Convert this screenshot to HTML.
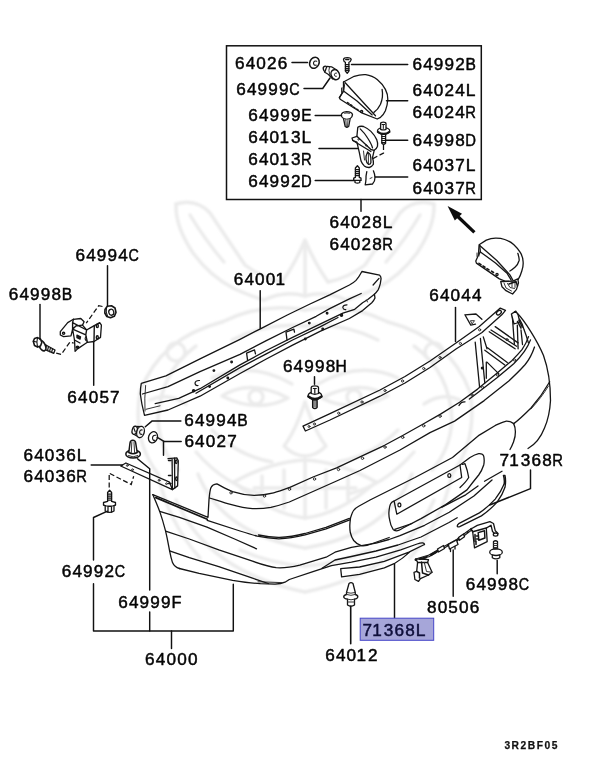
<!DOCTYPE html>
<html><head><meta charset="utf-8"><title>Rear bumper parts diagram</title>
<style>
html,body{margin:0;padding:0;background:#fff;}
body{width:609px;height:768px;overflow:hidden;font-family:"Liberation Sans",sans-serif;}
svg{display:block;position:absolute;left:0;top:0;}
text{font-family:"Liberation Sans",sans-serif;}
.t{font-size:15.6px;fill:#050505;stroke:#050505;stroke-width:0.45px;stroke-linejoin:round;}
.l{fill:none;stroke:#111;stroke-width:1.45;stroke-linecap:round;stroke-linejoin:round;}
.p{fill:none;stroke:#151515;stroke-width:1.3;stroke-linecap:round;stroke-linejoin:round;}
.pf{fill:#fff;stroke:#151515;stroke-width:1.3;stroke-linecap:round;stroke-linejoin:round;}
.th{fill:none;stroke:#2a2a2a;stroke-width:0.95;stroke-linecap:round;stroke-linejoin:round;}
.d{fill:none;stroke:#111;stroke-width:1.25;stroke-dasharray:5 2.5;}
.w{fill:none;stroke:#ebebeb;stroke-width:3.4;stroke-linecap:round;stroke-linejoin:round;}
</style></head><body>
<svg width="609" height="768" viewBox="0 0 609 768">
<rect width="609" height="768" fill="#fff"/>
<!-- ================= BUMPER 64000 ================= -->
<g class="p" id="bumper">
<!-- left wing top edge, step, lip line A to right corner -->
<path d="M152.800 494.600L208 517.300L209 499.600Q209.800 490.500 210.900 487.700Q212.500 484.300 216.800 483.800C222 486.500 227 489.500 232.600 491.600C240 494 248 495.200 254 495.400C262 495.300 268 494.200 273.600 492.800C279 491.500 284 489.600 289.300 487.600L313 477L336.600 467.900L360 456.800L384.600 445.300L402.700 435.500L423.200 424L440.500 414.100L459.600 402.200L477.600 389.100L495.700 374.300L512.100 360.400Q518 354.500 522 349.700Q526.500 343 528.500 336.600"/>
<!-- wing second lip (thick) -->
<path d="M155.800 497.600L207.200 519.300" style="stroke-width:1.700"/>
<!-- second lip line near right -->
<path d="M459 405.500Q461 401.500 465 401.800"/>
<path d="M469.400 399L479.300 391.600L497.300 377.600L513.700 363.700Q520 357.500 524.400 351.300Q528.500 345.500 530.500 339.900"/>
<!-- line B -->
<path d="M209.500 498C216 500 224 502.800 231.500 504.700C239 506.800 246 508.200 252.500 508.600C259 508.900 265 508.400 270.900 507.300C277 506 283 504.200 289.300 502L313 491.500L336.600 481L360 470.500L400 450L430 432.600L454.600 421.100L484.200 400.600L508.800 380.900Q519 371.500 525.200 364.500Q531 357.500 534.500 347"/>
<!-- right corner outer -->
<path d="M514.700 311.700L517.500 313.500C524 320 537 340 543.500 355.500C548 368 550.500 385 550.500 400.500C550 410 548 420 544.500 428C541 437 536 444 528 448.500"/>
<path d="M519.500 319.200Q522.500 324 524 329.600Q526.500 336 528.400 342.900"/>
<!-- crease from right edge into recess corner -->
<path d="M549.700 381.700C545 390 538 400 531 408C526 413 519 420 513.700 423.600"/>
<path d="M548.500 386C544 393.500 537.500 402 531 409" class="th"/>
<!-- left end -->
<path d="M152.800 494.600C155.500 501 158 507 159.700 511.400C162 518 164 525 165.600 531.100C167.500 539 168.500 545 169.600 550.800C170.500 555.500 171.500 559.500 172.500 562.600Q174.500 567.300 179.400 568.500"/>
<!-- bottom edge -->
<path d="M179.400 568.500L199.100 573.400L232.600 580.300C243 582 252 583.200 260.400 583.700L275 584.200Q281 584 285 582.200L289.300 579.500L313 571.700L331.400 565.600L351.400 562.100L376 557.200L400.700 549.800L417.100 544Q421 542.600 422.800 542.900Q424.500 543.300 424.500 544.500"/>
<path d="M258 581.800L282 582.600" class="th"/>
<!-- Line E -->
<path d="M159.700 511.400L179.400 517.300L207 527.100L234.600 539L256.500 548.800"/>
<!-- top face front edge into crease -->
<path d="M207.200 520.400L240 531C248 533.500 254 535.300 257.300 536.200C265 537.800 272 538.600 278.800 538.800C288 538.600 297 537 305.100 534.900L326.100 528.800L349.800 519.900"/>
<path d="M258.500 535C266 536.600 273 537.400 279.500 537.300C288 537.100 297 535.600 305 533.500L326 527.300L349.400 518.400"/>
<!-- Line F -->
<path d="M165.600 531.100L189.300 539L218.800 549.800L252.500 561.200C262 564.500 270 567 276.200 567.700C284 568.300 292 567 299.800 565.100L326.100 557.200L335 552.200L351.400 547.300L376 543.200L389 539.500L400 535.700L424.600 525.300L449.300 512.200L473.900 496L492 479.900"/>
<!-- intermediate -->
<path d="M322 568.300L335 560L351.400 556.500L376 551L398 545L421 537L449 522.500L457.200 517.800"/>
<!-- Line G -->
<path d="M169.600 550.800L189.300 557.700L218.800 566.600L252.500 578.200L268.300 583.500"/>
<!-- recess outer -->
<path d="M513.700 423.600C510.500 421.500 508.500 421 506.400 421.100C502 422 499 423.700 495.700 425.200L479.300 435.100L452.500 457.500L415 477.500L370 500L358.700 506.200Q353.500 509 352 513.500Q350 518 350 522.500Q349.500 528 350.300 532.500Q351.500 537.500 353.700 540.500Q356.500 544 361.300 545.700Q366 546.200 371.100 544L389.200 537.500"/>
<path d="M513.700 423.600Q515.300 427 515.400 431.800Q515.600 436 513.500 442Q512 446 510 449.500"/>
<!-- inner pocket -->
<path d="M393.700 501.200L460 465L470 457.500Q475 454.500 478.700 453.700Q483 453.500 483.700 456.200Q484.700 460.500 483.700 465Q482 470.500 478.700 475Q473 482 467 489.900L445.700 504.600L421 518.600L403 528Q398.500 531 396.400 530.900Q394 530.500 393.100 529.300Q390.500 525.500 389.900 521Q388.500 516 389 511.200Q389.500 506 390.500 504Q391.500 502.200 393.700 501.200"/>
<path d="M462.500 464.300L465 463.700Q467.500 470 468.700 477.500Q466 482 460 487.500"/>
<!-- license plate -->
<path d="M394.200 501.500L396.800 514.200L461.700 477.500L460 465"/>
<ellipse cx="399.400" cy="504.900" rx="1.500" ry="1.900"/>
<ellipse cx="449.300" cy="475.500" rx="1.500" ry="1.900"/>
<!-- reflections -->
<path d="M441.900 507.200L465.700 494.800L478 486"/>
<path d="M394.800 529.300L412 523.500"/>
<path d="M484.500 481.200L502 471.200"/>
<!-- holes along lip -->
<g class="th">
<circle cx="231" cy="492.800" r="1.200"/><circle cx="264.500" cy="496" r="1.200"/><circle cx="289.500" cy="489.200" r="1.200"/><circle cx="314.500" cy="479" r="1.200"/><circle cx="338.500" cy="469.500" r="1.200"/>
<circle cx="362.500" cy="458.300" r="1.200"/><circle cx="385" cy="447.100" r="1.200"/><circle cx="402.700" cy="437.300" r="1.200"/><circle cx="423.700" cy="425.800" r="1.200"/><circle cx="440.100" cy="416.200" r="1.200"/>
<circle cx="472" cy="395" r="1.100"/><circle cx="482.500" cy="387.300" r="1.100"/><circle cx="497.500" cy="375" r="1.100"/><circle cx="514.500" cy="360" r="1.100"/>
</g>
<!-- internal frame behind -->
<path d="M475.200 342.100L479.600 387.200"/><path d="M480.400 338.400L484.800 382.800"/><path d="M483.300 336.900L487 348.800"/>
<path d="M484.800 350.200L504.800 365"/><path d="M487.500 347.800L507.300 362.500"/>
<path d="M486.300 362.100V378.300"/><path d="M487 362.100L498.900 373.900"/>
<path d="M489.200 331.800L515.100 348.800"/><path d="M491 330L516.600 346.200"/><path d="M495.200 326.600L518.100 342.900"/>
<circle cx="507" cy="339.600" r="1.100" class="th"/><circle cx="482.300" cy="368" r="0.900" fill="#222"/>
<path d="M512.200 314.800L514.400 344.300"/><path d="M517.300 325.100L518.100 348.800"/><path d="M521 330L522.500 344.500"/>
<path class="pf" d="M511.400 314L515.800 311.100L518.100 314.800L519.800 322L514 324Z"/>
<path d="M517.500 321.500L521 328.100M519 320.500L522.300 327" style="stroke-width:1.500"/>
<!-- fin near strip -->
<path d="M464.900 314.800L476 314L481.900 319.200M464.900 314.800L470.800 325.100L475.500 324.200"/>
<path d="M470.800 320.700L474.500 320.700L472.300 323.600Z" class="th"/>
</g>
<!-- ================= AIR DAMS 71368 ================= -->
<path class="p" d="M424.500 544.500L408.900 552.200L384.300 561.300L359.600 567L340.700 568.700L341.600 576.900L359.600 574.400L384.300 567.800L394.100 563.700Q403 558.500 410.500 551.400"/>
<path class="pf" d="M503.400 475.500Q504.800 480 504 484.300Q501 492 495.200 499.100Q488 507 479.400 512.900L458.700 523.700Q457 525 457.300 526.300Q458 527.300 459.700 526.700L481.400 515.900Q490 510 497.100 502.100Q502.500 495 505 487.300Q506.200 481 505 475.500Z"/>
<!-- ================= REINFORCEMENT 64001 ================= -->
<g class="p" id="bar">
<path class="pf" d="M141.300 383.400L165.900 375.900L200 358.800L240 339.300L260.400 328.800L287.300 315L310 304L329.700 294.900L349.400 285Q354 282.500 356 280.400Q359 277 361.900 271.500L379.600 275.100Q381.300 277 381 279.100L380.300 283.700Q379.500 287 378.300 289.600Q376.500 292.300 374.400 294.200L375 298.100Q374 300.500 371.800 302.700L362.600 310.600L349.400 318.500L320 331.400L292.600 345.200L266.300 359L240 373.500L200 396.200L168 410L144.500 415.400Q141.500 404 140.300 394Q140.300 388 141.300 383.400Z"/>
<path d="M142.400 394L168 386.600L200 371.600L240 354.400L266.300 340.600L292.600 327.500L316.200 316.300L329.700 308.600L349.400 298.800L361.200 293.500"/>
<path d="M155.200 403.600L178.700 398.300L200 388.700L240 364.900L266.300 350.500L292.600 337.300L320 324.200L342.900 313.200L354.700 309.300L362.600 302.700L367.800 299.500L374.400 294.200"/>
<path d="M196 393.200L240 367.600L266.300 353.800L292.600 340L320 326.800L338 317.500"/>
<path d="M145.600 385.500Q144.300 398 145 411.100" class="th"/>
<path d="M146 409.300L160 405.800" class="th"/>
<path d="M373.100 285L379 278.400"/>
<path d="M366.500 300L367.500 302" class="th"/>
<!-- slots -->
<path d="M287 340L286 332.100L293.900 329.200L294.500 332.100" style="stroke-width:1.300"/>
<path d="M247.600 360.300L246.600 353.100L254.500 349.800L255.500 353.800" style="stroke-width:1.300"/>
<path d="M199.500 380.500Q195.500 380.300 195 383.200Q195.300 385.800 198 385.500" style="stroke-width:1.200"/>
<path d="M347 304.800Q343 304.800 342.800 307.500Q343.300 310 345.800 309.600" style="stroke-width:1.200"/>
<circle cx="213.900" cy="370.600" r="0.800"/><circle cx="231.600" cy="362" r="0.800"/><circle cx="227.800" cy="378" r="0.800"/><circle cx="209.600" cy="386.600" r="0.800"/><circle cx="193.600" cy="390.800" r="1.100" fill="#222"/>
<circle cx="309.300" cy="323.100" r="0.800"/><circle cx="305.300" cy="339" r="0.800"/><circle cx="327.100" cy="313.200" r="0.800"/><circle cx="322.700" cy="329" r="0.800"/><circle cx="341.500" cy="315.200" r="1.100" fill="#222"/>
</g>
<!-- ================= UPPER STRIP 64044 ================= -->
<g class="p" id="strip">
<path class="pf" d="M303 426.100L330 413.700L380 390L405 376.500L430 361L456 343L479.300 326.500L500.300 308.100L505.500 310.300L501.800 314.800L482 332.500L456 349L430 367.500L405 383L380 396.200L330 420L305.400 431Z"/>
<ellipse cx="498.900" cy="312.600" rx="2.800" ry="1.800" transform="rotate(-40 498.900 312.600)"/>
<g class="th"><circle cx="309" cy="426.500" r="1"/><circle cx="314.500" cy="424" r="1"/><circle cx="338.700" cy="413.200" r="1.100"/><circle cx="362" cy="402" r="1.100"/><circle cx="385" cy="390.500" r="1.100"/><circle cx="402.500" cy="381" r="1.100"/><circle cx="423.700" cy="368.500" r="1.100"/><circle cx="440" cy="357.500" r="1.100"/><circle cx="460.400" cy="343.500" r="1.100"/><circle cx="479.600" cy="329.800" r="1.100"/></g>
</g>
<!-- ================= INSET PARTS ================= -->
<g class="p" id="inset">
<!-- washer 64026 -->
<ellipse class="pf" cx="314.400" cy="62.800" rx="4.600" ry="5.700" transform="rotate(25 314.400 62.800)" style="stroke-width:1.550"/>
<path d="M316.800 61.200Q313.800 60.300 313.500 63.200Q313.800 65.800 316.200 65.100" style="stroke-width:1.150"/>
<!-- clip 64999C -->
<ellipse class="pf" cx="325.800" cy="69.300" rx="2.300" ry="3.200" transform="rotate(-25 325.800 69.300)"/>
<path class="pf" d="M326.800 66.400L331.500 66.800L337.500 70.500L332.800 79L328.500 74.500L324.800 72.200Z"/>
<ellipse class="pf" cx="335.300" cy="74.700" rx="4.100" ry="5.200" transform="rotate(-25 335.300 74.700)" style="stroke-width:1.500"/>
<path d="M336.600 73Q334.500 72.500 334.300 74.900Q334.600 76.800 336.400 76.400" class="th"/>
<path d="M329.500 66.800Q328 70 329.800 74.800" class="th"/>
<!-- screw 64992B -->
<path class="pf" d="M343.500 59.500Q343.800 57.700 347.300 57.700Q351 57.800 351.200 59.600Q350.500 62 348.900 62.300V71L347.200 73.300L345.400 71V62.300Q343.700 61.800 343.500 59.500Z"/>
<path d="M345.400 64.500H348.900M345.400 66.500H348.900M345.400 68.500H348.900M345.400 70.300H348.900M345.600 59.500L349 59.500" style="stroke-width:1.250"/>
<!-- lamp 64024 -->
<path class="pf" d="M343.500 82L354.200 76.300Q360 74.300 365.700 74.600Q372.500 75.500 377.200 79.600Q383 84.500 385.400 89.400Q388 94.500 387.800 99.300Q387.500 105.500 385.400 110.800Q383.500 115 380.500 117.300L377.200 119L362.400 113.200L340.200 99.300L339.400 97.600L343.500 91Z"/>
<path d="M345.200 82.800L375.500 115.700"/>
<path d="M343.500 91L357 101L372.200 114.900"/>
<path d="M339.400 97.600L343.500 91L344.300 85.300L343.500 82"/>
<path d="M341.500 92.500V88M343 92V87.500" class="th"/>
<path d="M382.100 89.400Q383.500 97 380.500 104.200Q378 109.500 373.900 112.400"/>
<path d="M347.500 102.500L349 103.500M350.500 104.700L352 105.700M353.500 107L355 108M356.700 109L358.200 110" style="stroke-width:1.500"/>
<circle cx="361.600" cy="111.600" r="1.100"/>
<!-- clip 64999E -->
<path class="pf" d="M341.300 115Q341.500 112 346.500 111.600Q352 111.800 352.500 114.600Q352.300 117.300 350.200 118.500L348.700 126.500L346.800 127.400L345.200 126.500L343.500 118.500Q341.300 117.500 341.300 115Z"/>
<path d="M343.500 118.500Q346.800 120 350.200 118.500M345.800 119.500L346.300 126.800M348 119.500L347.600 126.800M344.500 113.200Q347 112.500 349.500 113.300" class="th"/>
<!-- bracket 64013 -->
<path class="pf" d="M357.800 127.300Q360 125.700 363.500 126.500Q367.500 128.200 370.900 131.400Q374.500 135 376.700 139.600Q378 143 377.500 146.200Q376.500 149 374.200 150.300L372.500 157.700Q373.800 161.500 373.400 164.300Q372 166.800 369.300 167.500Q366.500 167.700 364.300 165.900Q362 163.500 361 161L359.400 152.800L356.900 142.100L352.800 140.500L352 138L356.900 136.300Z"/>
<path d="M360.200 128.900Q365 133.500 367.600 138Q371.500 144 372.500 147.800"/>
<path d="M356.900 136.300L370.900 149.500L374.200 150.300M352.800 140.500L370.900 151.500"/>
<path d="M367.600 152Q365.500 156 366 159.300Q366.500 163 368.400 164.300Q370.500 164.500 370.900 162.600Q371.300 158 370.100 154.400Z"/>
<path d="M368.400 153.500V163.500M363.500 151L364.500 160" class="th"/>
<circle cx="358.600" cy="139.300" r="0.800" class="th"/><circle cx="366.300" cy="145.400" r="0.800" class="th"/>
<!-- bolt 64998D -->
<path class="pf" d="M381.800 134H385.600V143.300Q383.700 145.200 381.800 143.300Z"/>
<path d="M381.800 136.500H385.600M381.800 138.500H385.600M381.800 140.500H385.600M381.800 142.500H385.600" style="stroke-width:1"/>
<ellipse class="pf" cx="383.600" cy="130.800" rx="6.100" ry="3.200"/>
<path d="M377.800 131.800Q383.600 136 389.500 131.800" style="stroke-width:2.100"/>
<path class="pf" d="M380.600 129.300V123.600Q380.800 122.200 383.300 122.200Q385.800 122.200 386 123.600V129.300Q383.300 130.500 380.600 129.300Z"/>
<path d="M382 124.500H384.600M383.300 124.500V128.500" style="stroke-width:1"/>
<!-- screw 64992D -->
<path class="pf" d="M357.400 165.700L359.300 168V177.400L361 178.200V180.300L359.800 181V182.500Q357.400 183.800 355 182.500V181L353.700 180.300V178.200L355.400 177.400V168Z"/>
<path d="M355.400 169.500H359.300M355.400 171.500H359.300M355.400 173.500H359.300M355.400 175.500H359.300M353.700 180.300H361" style="stroke-width:1.250"/>
<!-- strip 64037 -->
<path class="pf" d="M366.800 171.600Q365.800 176 366 179Q365.800 182 365.200 184.800L372.500 184Q375.200 181 375 177.400Q374.800 174 373.400 170.800"/>
<path d="M370 178.500L372 177.600" class="th"/>
</g>
<!-- ================= LAMP ASSY 64028 ================= -->
<g class="p" id="lampassy">
<path class="pf" d="M479.100 244.700L486.300 240.100Q491 238.200 495.500 238.100Q500.500 238 504.700 239.500Q510 241.300 513.900 244.700Q518 248.500 520.400 252.600Q523 257 523.100 261.800Q523.500 266.500 521.800 271Q520.500 275.500 518.500 278.900L515.200 281.500H506L499.400 278.900L476.400 263.100L475.800 261.100L478.400 255.200Z"/>
<path d="M479.700 245.400L496.800 260.500L509.900 274.900L513.200 280.800"/>
<path d="M480.400 251.900L495.500 263.100L507.300 273.600L511.200 280.200"/>
<path d="M478.400 255.200L480.400 251.900L479.700 245.400"/>
<path d="M477 256.500V253M479 256V252" class="th"/>
<path d="M517.800 253.300Q519.500 258.500 519.100 260.500Q518 264.500 515.200 267Q512.500 269.500 509.900 271"/>
<path d="M479 263.300L481 264.600M483 266L485 267.200M487 268.600L489 269.900M491.500 271.200L493.500 272.500" style="stroke-width:1.600"/>
<circle cx="497" cy="274.500" r="1.100"/>
<path class="pf" d="M500.700 281.500L502 286.800L506 290.700L512.600 294L516.500 289.400L518.500 282.800L517.800 278.900L513 281.200Z"/>
<path d="M504 283L506 288L511.500 291M507.500 283.500L510 287.500L514.500 288.500M512 282V287M515 281V287.500" class="th"/>
<path d="M509 284L516 281.500L517.500 286" style="stroke-width:1.500"/>
</g>
<!-- ================= BRACKET 64057 + HW ================= -->
<g class="p" id="b64057" style="stroke-width:1.400">
<!-- nut 64994C -->
<path class="pf" d="M105 309.500L107.300 306.300L111.500 305.800L115 308L116 312.500L114.300 316.300L110.500 317.800L106.800 316.500L104.800 313Z" style="stroke-width:1.600"/>
<ellipse class="pf" cx="111.300" cy="312.200" rx="2.500" ry="3" transform="rotate(-15 111.300 312.200)"/>
<path d="M106.500 307.500Q105.500 312 107.500 316" style="stroke-width:1.100"/>
<!-- bolt 64998B -->
<path class="pf" d="M44.500 344.300L55 350L53.800 353.300L43 348.600Z"/>
<path d="M46.500 345.300L45.500 349.600M48.500 346.500L47.500 350.600M50.500 347.700L49.500 351.600M52.500 348.800L51.600 352.500" style="stroke-width:1.200"/>
<ellipse class="pf" cx="42.200" cy="345.600" rx="3" ry="5.600" transform="rotate(-25 42.200 345.600)" style="stroke-width:1.600"/>
<path class="pf" d="M33.300 341.300L34.500 338.500L37.500 337.600L40.500 339L41.800 342.500L40.500 346L37.500 347L34.500 345.500Z" style="stroke-width:1.600"/>
<path d="M37.500 337.600Q36.300 342 37.500 347M33.300 341.300L36.500 342" style="stroke-width:1.100"/>
<!-- bracket -->
<path class="pf" d="M60.300 331.700L67.700 322.600L73.400 319.300L80.800 318.500L84.100 321.800L82.500 325.100L86.600 330L90.700 327.600L99.700 322.600L101.400 325.100L100.500 337.400L94 341.500L87.400 342.300L77.500 348.900L75.100 351.400L74.500 340L72.600 329.200L71 335.800L63.600 336.600L60.300 335Z"/>
<path d="M73.400 319.300L72.600 322.600L86.600 330M72.600 322.600L72.600 329.200L85.800 334.900L86.600 330M85.800 334.900L87.400 342.300M82.500 325.100L75.900 325.900L72.600 329.200M94.300 325.600L94 341.500M74.500 340L80 343"/>
<path d="M77 335.200L80.500 336.800L80 339L77 337.600Z" fill="#222"/>
<ellipse cx="77.500" cy="347.300" rx="1.300" ry="1" fill="#222"/>
<circle cx="63.600" cy="333.300" r="1.100"/><ellipse cx="97.300" cy="325.900" rx="1" ry="1.600"/><ellipse cx="97.300" cy="337.400" rx="1" ry="1.600"/>
<path d="M86 336.500Q84 339 86.500 341" style="stroke-width:1.100"/>
</g>
<!-- ================= LEFT HW CLUSTER ================= -->
<g class="p" id="lefthw">
<!-- nut 64994B -->
<g style="stroke-width:1.550">
<path class="pf" d="M135.500 426.300L141.500 426.600L139.500 437.500L133.700 434.300Z"/>
<ellipse class="pf" cx="134.700" cy="430.300" rx="2.500" ry="4.100" transform="rotate(15 134.700 430.300)"/>
<ellipse class="pf" cx="140.500" cy="432" rx="3.700" ry="5.700" transform="rotate(15 140.500 432)"/>
<path d="M142.300 430Q139.800 429.500 139.600 432.300Q139.900 434.800 142 434.300" style="stroke-width:1.100"/>
<path d="M134 428.500L135.300 432" style="stroke-width:1.100"/>
<!-- washer 64027 -->
<ellipse class="pf" cx="153" cy="437.300" rx="4.400" ry="5.700" transform="rotate(20 153 437.300)"/>
<path d="M155.800 435.300Q152.800 434.800 152.500 438Q152.800 440.800 155 440.300" style="stroke-width:1.100"/>
<path d="M157.300 437.300L163.900 441.400"/>
</g>
<!-- clip 64999F -->
<ellipse class="pf" cx="133.100" cy="454.100" rx="7.300" ry="4" style="stroke-width:1.500"/>
<path class="pf" d="M128.800 452.500L130 443Q130.300 440.300 132.800 440.200Q135.400 440.300 135.700 443L137.200 452.500Q133 455 128.800 452.500Z" style="stroke-width:1.500"/>
<path d="M131.800 442.500L131.300 452.500M134 442.500L134.600 452.500M128.500 455.600Q133.100 458.300 137.700 455.600" class="th"/>
<!-- bracket 64036 bar -->
<path class="pf" d="M120.700 466L125.900 463L169.500 482.200L172.400 489.600L120.700 466Z"/>
<path d="M125.900 463L172.400 484" style="display:none"/>
<circle cx="127.300" cy="465.500" r="0.900" class="th"/><circle cx="132.500" cy="469.700" r="0.900" class="th"/><circle cx="159.100" cy="480.300" r="0.900" class="th"/><circle cx="166.500" cy="483.700" r="0.900" class="th"/>
<!-- vertical plate -->
<path class="pf" d="M168 458.600L176.800 457.900L178.300 460.800L177.600 485.900L172.400 489.600L172.100 459.300"/>
<path d="M174.500 458.200L174.800 488" />
<ellipse cx="176.200" cy="461.800" rx="0.900" ry="1.800"/><ellipse cx="176.500" cy="478.800" rx="0.900" ry="1.800"/>
<path d="M168.500 460.500H171M168.500 475.500H171M168.500 483.500H171" style="stroke-width:1.500"/>
<!-- screw 64992C -->
<path class="pf" d="M109.600 490.200L111.600 492.500V501.400L115.500 502.500V505L114 505.900V511Q109.600 513.800 105.200 511V505.900L103.500 505V502.500L107.600 501.400V492.500Z"/>
<path d="M107.600 494H111.600M107.600 496H111.600M107.600 498H111.600M107.600 500H111.600M103.500 505Q109.600 507.500 115.500 505M108 506.800V512M111.500 506.800V512" style="stroke-width:1.250"/>
</g>
<!-- ================= BOLT 64998H ================= -->
<g class="p">
<path class="pf" d="M312.600 400H317.100V407.500Q314.800 409.500 312.600 407.500Z"/>
<path d="M312.600 402H317.100M312.600 404H317.100M312.600 406H317.100" style="stroke-width:1.100"/>
<ellipse class="pf" cx="314.900" cy="395.500" rx="6.800" ry="3.800"/>
<path d="M308.300 396.500Q314.900 401.500 321.600 396.500" style="stroke-width:2.400"/>
<path class="pf" d="M311.200 393.500V387.500Q311.500 385.800 314.800 385.800Q318.200 385.800 318.500 387.500V393.500Q314.800 395 311.200 393.500Z"/>
<path d="M313.300 388.500H316.300M314.800 388.500V393" style="stroke-width:1.200"/>
</g>
<!-- ================= CLIP 64012 ================= -->
<g class="p">
<path class="pf" d="M349 583.500Q351 581.800 353 583.500L355.300 592.500L355.300 594.500Q358 595.200 357.800 597Q357.500 598.800 354.500 599.200V605Q351 607.300 347.500 605V599.200Q344 598.800 343.700 597Q343.700 595.200 346.500 594.500V592.500Z"/>
<path d="M346.500 592.500Q351 594 355.300 592.500M346.500 594.500Q351 596.300 355.300 594.500M347.500 599.200Q351 600.500 354.500 599.200M347.500 602H354.500" class="th"/>
</g>
<!-- ================= HARNESS 80506 + BOLT 64998C ================= -->
<g class="p" id="harness" style="stroke-width:1.5">
<path d="M415.800 559.700L428.500 556.100L441.100 548.800L449.300 544.300L457.400 539.800L464.600 534.400L471.800 529" style="stroke-width:2.600"/>
<path d="M416.500 559.500L428.500 556.100L441.100 548.800L449.300 544.300L457.400 539.800L464.600 534.400L471.500 529.200" style="stroke:#fff;stroke-width:0.500;stroke-dasharray:3 3"/>
<path class="pf" d="M437.500 549L443.500 545.500L444.500 548.500L438.500 552Z"/>
<path class="pf" d="M448.300 544.300L456.500 540L458 544.500L449.500 549Z"/>
<path class="pf" d="M458.500 537.500L463.500 534L464.500 536.800L459.500 540.300Z"/>
<path d="M450.500 549V551.500M455 546.500V549" style="stroke-width:1.300"/>
<!-- left bracket -->
<path class="pf" d="M415.800 558.800L428.500 559.700L427.600 562.400L432.100 572.300L428.500 575L420.400 578.600L418.500 581.400L414.900 579.500L414 572.300L416.700 571.400L417.600 562.400Z"/>
<path d="M421.500 562L422.500 573L428.500 575M417.600 562.400L427.600 562.400M416.700 571.400L419.500 573V578" />
<path d="M424.300 562.500L426.500 571.500L432.100 572.300" class="th"/>
<!-- right bracket -->
<path class="pf" d="M470.900 529L477.300 525.400L489.900 521.700L493.500 523.500L495.300 530.800L498 533.500L496 535L492.500 531.500L491 525.200L486.300 528.100L487.200 541.600L474.500 547.900L472.700 531.700Z"/>
<path d="M472.700 531.700L486.300 528.100M478.200 532.600L484.500 530.800L484.900 538L478.800 540.200Z M476 541V544.500"/>
<path d="M470.900 529L472.700 531.700M475 534.500V541.500M476.500 536H478.200M476.500 539H478.200" /><path d="M420 559L426 557.500M431 555L436 552" style="stroke-width:2.200"/>
<ellipse class="pf" cx="495.600" cy="534.600" rx="2.300" ry="1.600"/>
<!-- bolt 64998C -->
<path class="pf" d="M493.500 541.500Q495.500 540 497.500 541.500V549H493.500Z"/>
<path d="M493.500 543.500H497.500M493.500 545.500H497.500M493.500 547.500H497.500" class="th"/>
<ellipse class="pf" cx="496" cy="552.200" rx="6.300" ry="3.300"/>
<path class="pf" d="M492.300 554.800V557.800Q496 560 499.800 557.800V554.800Q496 556.300 492.300 554.800Z"/>
<path d="M493.500 548.800Q495.500 550 497.500 548.800" class="th"/>
</g>
<g class="l">
<!-- inset box -->
<rect x="226.5" y="45.8" width="254.8" height="153.7" style="stroke-width:1.5;stroke-linejoin:miter"/>
<path d="M361 199.5V211.2"/>
<!-- inset leaders -->
<path d="M292 62.5H307.5"/>
<path d="M304 88.5H322.7L330 78"/>
<path d="M351.5 64.5H407.7"/>
<path d="M386.5 100.7H407.7"/>
<path d="M315.2 115.5H341.5"/>
<path d="M319 148.5H357.7"/>
<path d="M385.2 140.2H407.7"/>
<path d="M315.2 180.5H354"/>
<path d="M375.2 177H407.7"/>
<!-- main leaders -->
<path d="M107.5 265.7V305.7"/>
<path d="M40 304.5V339.5"/>
<path d="M93.7 342.5V385.2"/>
<path d="M260.2 290.7V328.2"/>
<path d="M455.5 307.5V341.5"/>
<path d="M314.5 376.8V384.2"/>
<path d="M180.9 420.9H152.2L145.3 426.7"/>
<path d="M181.2 441.4H163.5V455.2"/>
<path d="M91.2 465H122.5"/>
<path d="M107.5 511.2L93.5 517.5V560"/>
<path d="M93.5 583.7V631H233.3V584.3"/>
<path d="M137.5 458.7L149.7 468.7V590"/>
<path d="M149.7 612V631"/>
<path d="M171.5 631V648.4"/>
<path d="M530.5 470V488.7L489.7 505"/>
<path d="M394.5 563.7V618"/>
<path d="M453.2 550V596.2"/>
<path d="M497.2 560.5V573.7"/>
<path d="M350.7 606.2V643.7" style="stroke-width:1.6"/>
</g>
<g class="d">
<path d="M383.5 145V153L372.7 158.7"/>
<path d="M56.2 353.2L61.2 354.5L70 342L73.7 343.2"/>
<path d="M102.5 306.5L98.7 305.7L86.2 323.2"/>
<path d="M109.2 487.5V473.2L131.2 484.5L133.7 476.2"/>
</g>
<!-- arrow -->
<path d="M474.400 232.400L457 215.800" stroke="#0c0c0c" stroke-width="3.300" fill="none"/>
<path d="M447.600 206L462 213.800L454.800 220.600Z" fill="#0c0c0c"/>
<g class="t" style="filter:grayscale(1)" text-anchor="middle">
<text transform="translate(239.7 68.6) scale(1.1 1)">6</text><text transform="translate(250.4 68.6) scale(1.1 1)">4</text><text transform="translate(261.1 68.6) scale(1.1 1)">0</text><text transform="translate(271.8 68.6) scale(1.1 1)">2</text><text transform="translate(282.5 68.6) scale(1.1 1)">6</text>
<text transform="translate(240.95 95) scale(1.1 1)">6</text><text transform="translate(251.65 95) scale(1.1 1)">4</text><text transform="translate(262.35 95) scale(1.1 1)">9</text><text transform="translate(273.05 95) scale(1.1 1)">9</text><text transform="translate(283.75 95) scale(1.1 1)">9</text><text transform="translate(294.45 95) scale(0.92 1)">C</text>
<text transform="translate(252.95 121.25) scale(1.1 1)">6</text><text transform="translate(263.65 121.25) scale(1.1 1)">4</text><text transform="translate(274.35 121.25) scale(1.1 1)">9</text><text transform="translate(285.05 121.25) scale(1.1 1)">9</text><text transform="translate(295.75 121.25) scale(1.1 1)">9</text><text transform="translate(306.45 121.25) scale(1.0 1)">E</text>
<text transform="translate(252.95 143) scale(1.1 1)">6</text><text transform="translate(263.65 143) scale(1.1 1)">4</text><text transform="translate(274.35 143) scale(1.1 1)">0</text><text transform="translate(284.15 143) scale(1.1 1)">1</text><text transform="translate(295.75 143) scale(1.1 1)">3</text><text transform="translate(306.45 143) scale(1.12 1)">L</text>
<text transform="translate(252.95 164.5) scale(1.1 1)">6</text><text transform="translate(263.65 164.5) scale(1.1 1)">4</text><text transform="translate(274.35 164.5) scale(1.1 1)">0</text><text transform="translate(284.15 164.5) scale(1.1 1)">1</text><text transform="translate(295.75 164.5) scale(1.1 1)">3</text><text transform="translate(306.45 164.5) scale(0.95 1)">R</text>
<text transform="translate(252.95 187) scale(1.1 1)">6</text><text transform="translate(263.65 187) scale(1.1 1)">4</text><text transform="translate(274.35 187) scale(1.1 1)">9</text><text transform="translate(285.05 187) scale(1.1 1)">9</text><text transform="translate(295.75 187) scale(1.1 1)">2</text><text transform="translate(306.45 187) scale(0.95 1)">D</text>
<text transform="translate(417.2 70) scale(1.1 1)">6</text><text transform="translate(427.9 70) scale(1.1 1)">4</text><text transform="translate(438.6 70) scale(1.1 1)">9</text><text transform="translate(449.3 70) scale(1.1 1)">9</text><text transform="translate(460.0 70) scale(1.1 1)">2</text><text transform="translate(470.7 70) scale(1.0 1)">B</text>
<text transform="translate(417.2 95.75) scale(1.1 1)">6</text><text transform="translate(427.9 95.75) scale(1.1 1)">4</text><text transform="translate(438.6 95.75) scale(1.1 1)">0</text><text transform="translate(449.3 95.75) scale(1.1 1)">2</text><text transform="translate(460.0 95.75) scale(1.1 1)">4</text><text transform="translate(470.7 95.75) scale(1.12 1)">L</text>
<text transform="translate(417.2 117.5) scale(1.1 1)">6</text><text transform="translate(427.9 117.5) scale(1.1 1)">4</text><text transform="translate(438.6 117.5) scale(1.1 1)">0</text><text transform="translate(449.3 117.5) scale(1.1 1)">2</text><text transform="translate(460.0 117.5) scale(1.1 1)">4</text><text transform="translate(470.7 117.5) scale(0.95 1)">R</text>
<text transform="translate(417.2 146.25) scale(1.1 1)">6</text><text transform="translate(427.9 146.25) scale(1.1 1)">4</text><text transform="translate(438.6 146.25) scale(1.1 1)">9</text><text transform="translate(449.3 146.25) scale(1.1 1)">9</text><text transform="translate(460.0 146.25) scale(1.1 1)">8</text><text transform="translate(470.7 146.25) scale(0.95 1)">D</text>
<text transform="translate(417.2 171.25) scale(1.1 1)">6</text><text transform="translate(427.9 171.25) scale(1.1 1)">4</text><text transform="translate(438.6 171.25) scale(1.1 1)">0</text><text transform="translate(449.3 171.25) scale(1.1 1)">3</text><text transform="translate(460.0 171.25) scale(1.1 1)">7</text><text transform="translate(470.7 171.25) scale(1.12 1)">L</text>
<text transform="translate(417.2 193.5) scale(1.1 1)">6</text><text transform="translate(427.9 193.5) scale(1.1 1)">4</text><text transform="translate(438.6 193.5) scale(1.1 1)">0</text><text transform="translate(449.3 193.5) scale(1.1 1)">3</text><text transform="translate(460.0 193.5) scale(1.1 1)">7</text><text transform="translate(470.7 193.5) scale(0.95 1)">R</text>
<text transform="translate(334.2 228) scale(1.1 1)">6</text><text transform="translate(344.9 228) scale(1.1 1)">4</text><text transform="translate(355.6 228) scale(1.1 1)">0</text><text transform="translate(366.3 228) scale(1.1 1)">2</text><text transform="translate(377.0 228) scale(1.1 1)">8</text><text transform="translate(387.7 228) scale(1.12 1)">L</text>
<text transform="translate(334.2 249.5) scale(1.1 1)">6</text><text transform="translate(344.9 249.5) scale(1.1 1)">4</text><text transform="translate(355.6 249.5) scale(1.1 1)">0</text><text transform="translate(366.3 249.5) scale(1.1 1)">2</text><text transform="translate(377.0 249.5) scale(1.1 1)">8</text><text transform="translate(387.7 249.5) scale(0.95 1)">R</text>
<text transform="translate(80.2 260.75) scale(1.1 1)">6</text><text transform="translate(90.9 260.75) scale(1.1 1)">4</text><text transform="translate(101.6 260.75) scale(1.1 1)">9</text><text transform="translate(112.3 260.75) scale(1.1 1)">9</text><text transform="translate(123.0 260.75) scale(1.1 1)">4</text><text transform="translate(133.7 260.75) scale(0.92 1)">C</text>
<text transform="translate(13.45 299.5) scale(1.1 1)">6</text><text transform="translate(24.15 299.5) scale(1.1 1)">4</text><text transform="translate(34.85 299.5) scale(1.1 1)">9</text><text transform="translate(45.55 299.5) scale(1.1 1)">9</text><text transform="translate(56.25 299.5) scale(1.1 1)">8</text><text transform="translate(66.95 299.5) scale(1.0 1)">B</text>
<text transform="translate(238.45 285) scale(1.1 1)">6</text><text transform="translate(249.15 285) scale(1.1 1)">4</text><text transform="translate(259.85 285) scale(1.1 1)">0</text><text transform="translate(270.55 285) scale(1.1 1)">0</text><text transform="translate(280.35 285) scale(1.1 1)">1</text>
<text transform="translate(433.95 300.75) scale(1.1 1)">6</text><text transform="translate(444.65 300.75) scale(1.1 1)">4</text><text transform="translate(455.35 300.75) scale(1.1 1)">0</text><text transform="translate(466.05 300.75) scale(1.1 1)">4</text><text transform="translate(476.75 300.75) scale(1.1 1)">4</text>
<text transform="translate(287.65 371.9) scale(1.1 1)">6</text><text transform="translate(298.35 371.9) scale(1.1 1)">4</text><text transform="translate(309.05 371.9) scale(1.1 1)">9</text><text transform="translate(319.75 371.9) scale(1.1 1)">9</text><text transform="translate(330.45 371.9) scale(1.1 1)">8</text><text transform="translate(341.15 371.9) scale(1.0 1)">H</text>
<text transform="translate(72.05 402.5) scale(1.1 1)">6</text><text transform="translate(82.75 402.5) scale(1.1 1)">4</text><text transform="translate(93.45 402.5) scale(1.1 1)">0</text><text transform="translate(104.15 402.5) scale(1.1 1)">5</text><text transform="translate(114.85 402.5) scale(1.1 1)">7</text>
<text transform="translate(188.95 426) scale(1.1 1)">6</text><text transform="translate(199.65 426) scale(1.1 1)">4</text><text transform="translate(210.35 426) scale(1.1 1)">9</text><text transform="translate(221.05 426) scale(1.1 1)">9</text><text transform="translate(231.75 426) scale(1.1 1)">4</text><text transform="translate(242.45 426) scale(1.0 1)">B</text>
<text transform="translate(189.15 447.3) scale(1.1 1)">6</text><text transform="translate(199.85 447.3) scale(1.1 1)">4</text><text transform="translate(210.55 447.3) scale(1.1 1)">0</text><text transform="translate(221.25 447.3) scale(1.1 1)">2</text><text transform="translate(231.95 447.3) scale(1.1 1)">7</text>
<text transform="translate(28.2 460.5) scale(1.1 1)">6</text><text transform="translate(38.9 460.5) scale(1.1 1)">4</text><text transform="translate(49.6 460.5) scale(1.1 1)">0</text><text transform="translate(60.3 460.5) scale(1.1 1)">3</text><text transform="translate(71.0 460.5) scale(1.1 1)">6</text><text transform="translate(81.7 460.5) scale(1.12 1)">L</text>
<text transform="translate(28.2 482) scale(1.1 1)">6</text><text transform="translate(38.9 482) scale(1.1 1)">4</text><text transform="translate(49.6 482) scale(1.1 1)">0</text><text transform="translate(60.3 482) scale(1.1 1)">3</text><text transform="translate(71.0 482) scale(1.1 1)">6</text><text transform="translate(81.7 482) scale(0.95 1)">R</text>
<text transform="translate(504.2 465.5) scale(1.1 1)">7</text><text transform="translate(514.0 465.5) scale(1.1 1)">1</text><text transform="translate(525.6 465.5) scale(1.1 1)">3</text><text transform="translate(536.3 465.5) scale(1.1 1)">6</text><text transform="translate(547.0 465.5) scale(1.1 1)">8</text><text transform="translate(557.7 465.5) scale(0.95 1)">R</text>
<text transform="translate(66.45 577) scale(1.1 1)">6</text><text transform="translate(77.15 577) scale(1.1 1)">4</text><text transform="translate(87.85 577) scale(1.1 1)">9</text><text transform="translate(98.55 577) scale(1.1 1)">9</text><text transform="translate(109.25 577) scale(1.1 1)">2</text><text transform="translate(119.95 577) scale(0.92 1)">C</text>
<text transform="translate(122.95 608) scale(1.1 1)">6</text><text transform="translate(133.65 608) scale(1.1 1)">4</text><text transform="translate(144.35 608) scale(1.1 1)">9</text><text transform="translate(155.05 608) scale(1.1 1)">9</text><text transform="translate(165.75 608) scale(1.1 1)">9</text><text transform="translate(176.45 608) scale(1.05 1)">F</text>
<text transform="translate(470.45 590) scale(1.1 1)">6</text><text transform="translate(481.15 590) scale(1.1 1)">4</text><text transform="translate(491.85 590) scale(1.1 1)">9</text><text transform="translate(502.55 590) scale(1.1 1)">9</text><text transform="translate(513.25 590) scale(1.1 1)">8</text><text transform="translate(523.95 590) scale(0.92 1)">C</text>
<text transform="translate(431.7 612.5) scale(1.1 1)">8</text><text transform="translate(442.4 612.5) scale(1.1 1)">0</text><text transform="translate(453.1 612.5) scale(1.1 1)">5</text><text transform="translate(463.8 612.5) scale(1.1 1)">0</text><text transform="translate(474.5 612.5) scale(1.1 1)">6</text>
<text transform="translate(329.95 660.75) scale(1.1 1)">6</text><text transform="translate(340.65 660.75) scale(1.1 1)">4</text><text transform="translate(351.35 660.75) scale(1.1 1)">0</text><text transform="translate(361.15 660.75) scale(1.1 1)">1</text><text transform="translate(372.75 660.75) scale(1.1 1)">2</text>
<text transform="translate(149.85 664.8) scale(1.1 1)">6</text><text transform="translate(160.55 664.8) scale(1.1 1)">4</text><text transform="translate(171.25 664.8) scale(1.1 1)">0</text><text transform="translate(181.95 664.8) scale(1.1 1)">0</text><text transform="translate(192.65 664.8) scale(1.1 1)">0</text>
</g>
<rect x="360.2" y="618.2" width="73.5" height="22.1" fill="#a6a6d9" stroke="#4545c8" stroke-width="1"/>
<g text-anchor="middle" style="font-size:15.6px;fill:#10103c;stroke:#10103c;stroke-width:0.45px;filter:contrast(1.01)"><text transform="translate(367.2 636.25) scale(1.1 1)">7</text><text transform="translate(377.0 636.25) scale(1.1 1)">1</text><text transform="translate(388.6 636.25) scale(1.1 1)">3</text><text transform="translate(399.3 636.25) scale(1.1 1)">6</text><text transform="translate(410.0 636.25) scale(1.1 1)">8</text><text transform="translate(420.7 636.25) scale(1.12 1)">L</text>
</g>
<g style="mix-blend-mode:multiply"><!-- faint watermark (helmet / mask) -->
<defs><filter id="wb" x="-5%" y="-5%" width="110%" height="110%"><feGaussianBlur stdDeviation="0.8"/></filter></defs>
<g class="w" filter="url(#wb)">
<g>
<!-- horn -->
<path d="M176 204Q196 198 210 213Q228 240 245 265Q262 278 282 282"/>
<path d="M176 204Q175 226 193 253Q210 276 233 288Q250 296 264 300"/>
<path d="M190 215Q205 240 224 262"/>
<!-- dome / brow -->
<path d="M264 300Q285 290 305 296"/>
<path d="M222 322Q262 302 305 310"/>
<path d="M232 340Q268 322 305 326"/>
<!-- side flap -->
<path d="M222 322Q160 338 140 392Q132 440 158 474"/>
<path d="M196 346Q160 372 158 420Q160 450 178 470"/>
<circle cx="176" cy="352" r="9"/>
<path d="M150 400Q168 392 186 404"/>
<!-- eye -->
<path d="M222 396Q250 378 288 398Q258 414 222 396Z"/>
<circle cx="256" cy="397" r="7"/>
<path d="M212 378Q250 360 292 384"/>
<!-- cheek -->
<path d="M212 430Q238 456 272 462"/>
<path d="M196 452Q226 486 262 494"/>
<!-- nose -->
<path d="M305 402Q295 432 284 446Q294 456 305 456"/>
<!-- mouth -->
<path d="M234 482Q270 462 305 460"/>
<path d="M234 482Q270 514 305 518"/>
<path d="M262 476V500M284 470V508"/>
<!-- chin / neck guard -->
<path d="M198 474Q222 534 305 548"/>
<path d="M176 500Q208 572 305 592"/>
<path d="M158 474Q168 522 200 558"/>
<path d="M240 550Q272 564 305 566"/>
</g>
<g transform="matrix(-1 0 0 1 610 0)">
<!-- horn -->
<path d="M176 204Q196 198 210 213Q228 240 245 265Q262 278 282 282"/>
<path d="M176 204Q175 226 193 253Q210 276 233 288Q250 296 264 300"/>
<path d="M190 215Q205 240 224 262"/>
<!-- dome / brow -->
<path d="M264 300Q285 290 305 296"/>
<path d="M222 322Q262 302 305 310"/>
<path d="M232 340Q268 322 305 326"/>
<!-- side flap -->
<path d="M222 322Q160 338 140 392Q132 440 158 474"/>
<path d="M196 346Q160 372 158 420Q160 450 178 470"/>
<circle cx="176" cy="352" r="9"/>
<path d="M150 400Q168 392 186 404"/>
<!-- eye -->
<path d="M222 396Q250 378 288 398Q258 414 222 396Z"/>
<circle cx="256" cy="397" r="7"/>
<path d="M212 378Q250 360 292 384"/>
<!-- cheek -->
<path d="M212 430Q238 456 272 462"/>
<path d="M196 452Q226 486 262 494"/>
<!-- nose -->
<path d="M305 402Q295 432 284 446Q294 456 305 456"/>
<!-- mouth -->
<path d="M234 482Q270 462 305 460"/>
<path d="M234 482Q270 514 305 518"/>
<path d="M262 476V500M284 470V508"/>
<!-- chin / neck guard -->
<path d="M198 474Q222 534 305 548"/>
<path d="M176 500Q208 572 305 592"/>
<path d="M158 474Q168 522 200 558"/>
<path d="M240 550Q272 564 305 566"/>
</g>
<path d="M305 240Q296 262 282 282M305 240Q314 262 328 282M305 246V296"/>
<path d="M254 488H356M305 460V518"/>
</g>
</g>
<text x="504.4" y="749.2" textLength="54.6" lengthAdjust="spacingAndGlyphs" style="letter-spacing:1.7px;font-size:11.4px;font-weight:bold;fill:#111;stroke:#111;stroke-width:0.25px;filter:grayscale(1)">3R2BF05</text>
</svg>
</body></html>
